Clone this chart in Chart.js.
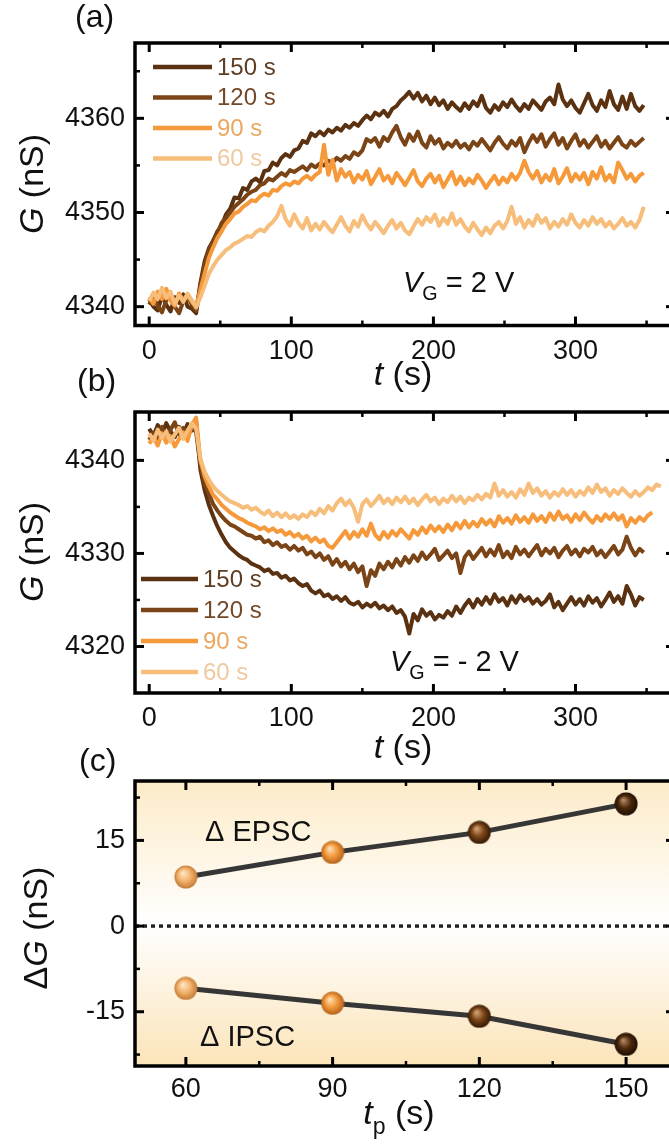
<!DOCTYPE html>
<html><head><meta charset="utf-8">
<script src="https://cdn.jsdelivr.net/npm/chart.js@4.4.1/dist/chart.umd.min.js"></script>
<style>
html,body{margin:0;padding:0;background:#fff;overflow:hidden;width:669px;height:1144px;position:relative;}
canvas{position:absolute;left:0;top:0;}
</style></head><body>
<canvas id="ca" width="700" height="1144"></canvas>
<canvas id="cb" width="700" height="1144"></canvas>
<canvas id="cc" width="700" height="1144"></canvas>
<script>
// ---------- data ----------
const timeS = [0,3,6,9,12,15,18,21,24,27,30,33,36,39,42,45,48,51,54,57,60,63,66,69,72,75,78,81,84,87,90,93,96,99,102,105,108,111,114,117,120,123,126,129,132,135,138,141,144,147,150,153,156,159,162,165,168,171,174,177,180,183,186,189,192,195,198,201,204,207,210,213,216,219,222,225,228,231,234,237,240,243,246,249,252,255,258,261,264,267,270,273,276,279,282,285,288,291,294,297,300,303,306,309,312,315,318,321,324,327,330,333,336,339,342,345,348,351,354,357,360];

const seriesNames = ['150 s','120 s','90 s','60 s'];
const lineColors = ['#5b3211','#7b4416','#f6993a','#f7bd7b'];
const legendTextColors = ['#5e3e22','#74492a','#eaa862','#efc9a0'];

// (a) VG = 2 V
const gA150 = [4340.8,4340.0,4339.6,4341.2,4340.2,4339.5,4341.0,4340.4,4341.3,4340.0,4339.8,4339.3,
4342.5,4344.8,4346.2,4347.0,4348.0,4348.6,4349.8,4350.4,4351.6,4351.5,4352.6,4352.4,4353.3,4353.6,4353.2,4354.4,4354.5,4355.3,4355.0,4355.8,4356.2,4355.9,4356.6,4356.8,4357.6,4357.4,4358.4,4358.1,4358.6,4358.2,4358.8,4358.5,4359.0,4358.7,4359.3,4359.0,4359.5,4359.2,4359.8,4360.3,4359.9,4360.6,4360.3,4360.8,4360.2,4361.0,4361.3,4361.9,4362.3,4362.8,4362.1,4362.7,4361.8,4362.4,4361.5,4362.2,4361.4,4361.9,4361.0,4361.7,4361.2,4360.8,4361.6,4361.0,4361.8,4361.3,4362.4,4361.1,4360.6,4361.4,4360.9,4361.7,4361.2,4362.0,4361.3,4360.8,4361.5,4361.0,4361.9,4361.4,4360.9,4361.8,4362.2,4361.5,4363.6,4362.0,4361.3,4361.9,4361.1,4360.6,4361.6,4362.6,4361.4,4360.8,4361.9,4361.2,4362.9,4361.5,4360.9,4362.3,4361.0,4362.6,4361.3,4360.8,4361.4];
const gA120 = [4340.2,4341.0,4340.1,4339.4,4340.7,4341.3,4340.0,4339.3,4340.6,4341.1,4340.2,4339.6,
4342.2,4344.4,4346.0,4347.0,4347.8,4348.9,4349.4,4350.0,4350.6,4351.0,4351.4,4351.9,4352.2,4352.4,4352.9,4353.1,4353.6,4353.4,4353.8,4354.2,4353.9,4354.5,4354.3,4354.6,4354.9,4354.5,4355.1,4354.8,4355.2,4355.0,4355.5,4355.3,4355.8,4355.5,4356.0,4355.7,4356.4,4356.1,4356.6,4357.8,4357.5,4357.9,4357.0,4358.0,4357.6,4358.5,4359.2,4358.0,4357.2,4358.3,4357.6,4358.6,4357.4,4356.9,4358.1,4357.3,4357.8,4356.8,4357.4,4357.0,4357.6,4356.9,4357.3,4356.7,4357.5,4357.1,4357.8,4357.2,4356.6,4357.4,4358.0,4357.3,4356.8,4357.6,4357.1,4357.9,4356.4,4357.4,4358.2,4357.5,4358.3,4357.0,4357.8,4358.4,4357.2,4357.9,4356.8,4357.6,4358.3,4357.1,4357.7,4356.9,4357.5,4358.1,4357.0,4357.6,4356.8,4357.4,4358.0,4357.2,4356.9,4357.6,4357.1,4357.5,4357.9];
const gA90 = [4341.0,4340.3,4341.6,4340.8,4341.9,4340.6,4340.1,4341.4,4340.7,4341.2,4340.5,4340.0,
4341.8,4343.5,4345.2,4346.3,4347.3,4348.0,4348.8,4349.3,4349.9,4350.1,4350.6,4350.9,4351.3,4351.2,4351.7,4352.0,4351.8,4352.4,4352.3,4352.8,4353.1,4352.9,4353.3,4353.1,4353.6,4353.9,4353.5,4354.0,4354.3,4357.2,4354.0,4355.6,4353.4,4354.6,4353.8,4354.3,4353.2,4354.0,4353.5,4354.4,4353.0,4353.8,4354.6,4353.4,4353.9,4353.1,4354.2,4353.6,4352.9,4353.7,4354.5,4353.3,4352.8,4353.6,4354.1,4353.2,4353.9,4352.7,4353.5,4354.3,4353.0,4353.8,4352.9,4353.6,4353.1,4354.0,4353.4,4352.6,4353.3,4353.9,4353.0,4353.7,4353.2,4354.1,4353.5,4354.2,4355.5,4354.3,4353.6,4354.4,4353.2,4354.0,4353.4,4354.6,4353.1,4353.8,4354.7,4353.3,4354.1,4353.5,4354.2,4353.0,4354.3,4353.6,4354.8,4353.4,4354.0,4353.2,4355.3,4354.5,4353.6,4354.1,4353.3,4353.9,4354.2];
const gA60 = [4340.6,4341.5,4340.8,4342.0,4340.9,4341.6,4340.3,4341.2,4340.5,4341.4,4340.7,4339.9,
4341.0,4342.2,4343.5,4344.3,4345.0,4345.5,4346.0,4346.3,4346.7,4346.9,4347.2,4347.5,4347.4,4347.9,4348.2,4348.0,4348.6,4349.0,4349.6,4350.7,4349.3,4348.6,4349.8,4348.9,4348.3,4349.4,4348.1,4348.8,4348.2,4349.0,4348.4,4347.9,4348.7,4349.5,4348.6,4348.0,4349.1,4348.5,4349.7,4348.8,4348.2,4349.0,4348.4,4347.8,4348.6,4349.2,4348.3,4348.9,4348.1,4347.7,4348.5,4349.3,4348.7,4349.5,4349.0,4349.8,4348.6,4349.4,4348.8,4349.9,4348.7,4349.3,4348.5,4348.0,4348.9,4348.2,4347.6,4348.4,4347.8,4348.6,4349.0,4348.3,4349.1,4350.6,4348.8,4349.5,4348.4,4349.2,4348.6,4349.7,4348.9,4349.4,4348.3,4349.0,4348.5,4349.3,4348.7,4349.8,4348.9,4348.4,4349.2,4348.6,4349.5,4348.8,4349.3,4348.5,4349.0,4348.3,4348.8,4349.4,4348.6,4349.0,4348.4,4349.2,4350.6];

// (b) VG = -2 V
const gB150 = [4343.4,4342.6,4343.8,4342.9,4344.0,4343.1,4342.5,4343.6,4342.8,4343.9,4343.2,4344.2,
4339.0,4336.8,4335.2,4334.0,4332.9,4332.0,4331.2,4330.6,4330.2,4329.8,4329.5,4329.3,4328.9,4328.7,4328.5,4328.1,4328.3,4327.8,4327.9,4327.4,4327.6,4327.1,4327.3,4326.8,4326.5,4326.7,4326.0,4325.7,4326.0,4325.4,4325.6,4325.1,4325.4,4324.9,4325.3,4324.7,4324.5,4324.8,4324.2,4324.6,4324.3,4324.7,4324.1,4324.4,4323.9,4324.3,4323.6,4323.9,4323.2,4321.4,4323.5,4322.8,4324.0,4323.3,4323.7,4322.9,4323.4,4323.1,4323.8,4323.3,4324.3,4323.6,4324.4,4325.0,4324.2,4325.1,4324.5,4325.3,4324.6,4325.6,4324.8,4325.2,4324.4,4325.4,4324.7,4325.5,4324.9,4325.3,4324.6,4325.1,4324.5,4324.9,4325.6,4324.2,4324.8,4323.9,4324.6,4325.3,4324.5,4325.1,4324.4,4325.4,4324.7,4325.2,4324.3,4325.0,4325.8,4324.8,4325.4,4324.6,4326.5,4325.6,4324.4,4325.3,4325.0];
const gB120 = [4342.2,4343.0,4342.4,4343.6,4342.7,4343.3,4344.1,4342.8,4343.5,4342.6,4343.7,4343.0,
4339.5,4337.5,4336.4,4335.3,4334.6,4334.0,4333.5,4333.1,4332.9,4332.6,4332.3,4332.0,4331.9,4331.6,4331.8,4331.2,4331.4,4330.9,4331.2,4330.7,4330.9,4330.4,4330.8,4330.3,4330.6,4329.9,4330.2,4329.6,4330.0,4329.3,4329.7,4328.8,4329.4,4328.6,4329.1,4328.3,4328.9,4328.0,4328.6,4326.5,4328.2,4327.6,4328.9,4328.3,4329.1,4328.5,4329.4,4328.7,4329.6,4329.0,4329.8,4329.2,4330.1,4329.4,4329.9,4330.5,4329.3,4329.8,4330.3,4329.5,4330.0,4327.9,4329.6,4330.2,4329.4,4330.0,4330.6,4329.7,4330.4,4329.8,4330.9,4329.6,4330.2,4329.5,4330.7,4329.9,4330.4,4329.7,4330.3,4330.9,4329.8,4330.5,4330.0,4330.6,4329.6,4330.3,4330.8,4329.9,4330.4,4329.7,4330.5,4330.1,4330.7,4329.8,4330.3,4329.6,4330.2,4330.8,4329.9,4330.4,4331.8,4330.6,4329.8,4330.5,4330.1];
const gB90 = [4341.8,4342.5,4341.6,4342.9,4341.9,4342.6,4341.5,4342.3,4343.0,4342.1,4343.8,4344.6,
4340.0,4338.3,4337.2,4336.3,4335.8,4335.2,4334.8,4334.4,4334.1,4333.8,4333.6,4333.3,4333.1,4332.9,4332.6,4332.8,4332.4,4332.7,4332.3,4332.5,4332.0,4332.3,4331.8,4332.1,4331.6,4331.9,4331.3,4331.7,4331.2,4331.5,4330.8,4330.6,4331.2,4331.8,4332.4,4331.6,4332.3,4331.8,4332.6,4331.9,4333.2,4332.0,4331.5,4332.3,4331.7,4332.4,4331.9,4332.6,4332.1,4331.6,4332.5,4332.0,4332.8,4332.2,4333.0,4332.4,4332.9,4332.3,4333.1,4332.5,4333.3,4332.7,4333.5,4332.8,4333.4,4332.9,4333.7,4333.1,4333.6,4332.9,4334.0,4333.3,4333.8,4333.2,4334.1,4333.4,4333.9,4333.3,4334.2,4333.5,4334.0,4333.4,4334.3,4333.6,4334.5,4333.7,4334.1,4333.4,4334.2,4333.6,4334.4,4333.8,4333.3,4334.0,4333.5,4334.2,4333.7,4334.3,4333.6,4334.1,4332.9,4333.8,4333.3,4333.9,4333.5,4334.1,4334.4];
const gB60 = [4342.9,4342.1,4343.3,4342.4,4343.1,4342.0,4342.8,4343.5,4342.3,4343.2,4344.0,4343.4,
4340.2,4338.8,4337.9,4337.2,4336.7,4336.3,4335.9,4335.6,4335.4,4335.2,4334.9,4335.1,4334.7,4334.9,4334.5,4334.2,4334.6,4334.0,4334.4,4333.9,4334.3,4333.8,4334.1,4333.7,4334.2,4333.9,4334.5,4334.1,4334.8,4334.3,4335.1,4334.6,4335.4,4335.9,4335.2,4335.7,4334.9,4333.4,4335.3,4335.8,4335.1,4335.6,4336.2,4335.4,4335.9,4335.3,4336.0,4335.5,4336.1,4335.4,4335.9,4335.2,4335.8,4336.3,4335.6,4336.0,4335.3,4335.9,4335.5,4336.2,4335.6,4336.1,4335.4,4336.0,4335.7,4336.3,4335.8,4336.4,4336.0,4337.5,4336.2,4336.8,4336.1,4336.6,4336.0,4336.9,4336.3,4337.5,4336.5,4337.0,4336.2,4336.7,4336.0,4336.6,4336.2,4336.9,4336.3,4336.8,4336.1,4336.7,4336.3,4337.1,4336.5,4337.4,4336.6,4337.0,4336.2,4336.8,4336.4,4337.0,4336.5,4336.1,4336.7,4336.2,4336.6,4337.1,4336.8,4337.4,4337.2];

const xTicksT = [0,100,200,300];
const xMinorT = [50,150,250,350];
const yTicksA = [4340,4350,4360];
const yMinorA = [4345,4355,4365];
const yTicksB = [4320,4330,4340];
const yMinorB = [4325,4335];

// (c)
const tp = [60,90,120,150];
const dEPSC = [8.6,12.9,16.4,21.4];
const dIPSC = [-10.9,-13.5,-15.8,-20.7];
const xTicksC = [60,90,120,150];
const xMinorC = [75,105,135];
const yTicksC = [-15,0,15];
const yMinorC = [-22.5,-7.5,7.5,22.5];
const markerColors = [['#fde7c8','#f5b36e','#c07934'],['#fde0b8','#f49a3c','#b0601a'],['#d6a478','#7a4416','#2e1603'],['#b58a66','#4e290b','#1a0c02']];

// ---------- helpers ----------
const FONT = '"Liberation Sans", Arial, Helvetica, sans-serif';

function drawRich(ctx, parts, x, y, size, align, color) {
  ctx.fillStyle = color || '#111';
  ctx.textBaseline = 'alphabetic';
  ctx.textAlign = 'left';
  const m = [];
  let w = 0;
  for (const p of parts) {
    const fs = p.sub ? size * 0.68 : size;
    const f = (p.i ? 'italic ' : '') + fs + 'px ' + FONT;
    ctx.font = f;
    const pw = ctx.measureText(p.t).width;
    m.push({p, f, pw});
    w += pw;
  }
  let cx = align === 'center' ? x - w / 2 : x;
  for (const q of m) {
    ctx.font = q.f;
    ctx.fillText(q.p.t, cx, y + (q.p.sub ? size * 0.28 : 0));
    cx += q.pw;
  }
}

function decor(cfg) {
  return {
    id: 'decor',
    beforeDraw(chart) {
      if (!cfg.bg) return;
      const {ctx, chartArea: a} = chart;
      const g = ctx.createLinearGradient(0, a.top, 0, a.bottom);
      g.addColorStop(0, '#fcebc8');
      g.addColorStop(0.5, '#ffffff');
      g.addColorStop(1, '#fbe4b9');
      ctx.save(); ctx.fillStyle = g; ctx.fillRect(a.left, a.top, a.width, a.height); ctx.restore();
    },
    beforeDatasetsDraw(chart) {
      if (cfg.zeroLine === undefined) return;
      const {ctx, chartArea: a, scales: {y}} = chart;
      const py = y.getPixelForValue(cfg.zeroLine);
      ctx.save();
      ctx.strokeStyle = '#222'; ctx.lineWidth = 3.5; ctx.setLineDash([4, 4]);
      ctx.beginPath(); ctx.moveTo(a.left, py); ctx.lineTo(a.right, py); ctx.stroke();
      ctx.restore();
    },
    afterDraw(chart) {
      const {ctx, chartArea: a, scales: {x, y}} = chart;
      ctx.save();
      ctx.strokeStyle = '#000';
      const seg = (x1, y1, x2, y2) => { ctx.beginPath(); ctx.moveTo(x1, y1); ctx.lineTo(x2, y2); ctx.stroke(); };
      ctx.lineWidth = 3;
      for (const v of cfg.xMajor) { const p = x.getPixelForValue(v); seg(p, a.bottom, p, a.bottom - 9); seg(p, a.top, p, a.top + 9); }
      for (const v of cfg.yMajor) { const p = y.getPixelForValue(v); seg(a.left, p, a.left + 9, p); seg(a.right, p, a.right - 9, p); }
      ctx.lineWidth = 2.5;
      for (const v of cfg.xMinor) { const p = x.getPixelForValue(v); seg(p, a.bottom, p, a.bottom - 5); seg(p, a.top, p, a.top + 5); }
      for (const v of cfg.yMinor) { const p = y.getPixelForValue(v); seg(a.left, p, a.left + 5, p); seg(a.right, p, a.right - 5, p); }
      ctx.lineWidth = 3.5;
      ctx.strokeRect(a.left, a.top, a.width, a.height);
      // legend
      if (cfg.legend) {
        const L = cfg.legend;
        chart.data.datasets.slice().sort((p, q) => seriesNames.indexOf(p.label) - seriesNames.indexOf(q.label)).forEach((ds, k) => {
          const yy = L.y0 + k * L.dy;
          ctx.strokeStyle = ds.borderColor; ctx.lineWidth = 4.5; ctx.lineCap = 'butt';
          seg(L.x1, yy, L.x2, yy);
          ctx.font = L.size + 'px ' + FONT; ctx.fillStyle = legendTextColors[seriesNames.indexOf(ds.label)];
          ctx.textAlign = 'left'; ctx.textBaseline = 'middle';
          ctx.fillText(ds.label, L.x2 + 5, yy + 1);
        });
      }
      // texts
      for (const t of cfg.texts) {
        if (t.rot) {
          ctx.save(); ctx.translate(t.x, t.y); ctx.rotate(-Math.PI / 2);
          drawRich(ctx, t.parts, 0, t.size * 0.36, t.size, 'center', t.color);
          ctx.restore();
        } else {
          drawRich(ctx, t.parts, t.x, t.y, t.size, t.align || 'left', t.color);
        }
      }
      ctx.restore();
    }
  };
}

function scaleCfg(min, max, ticks, padding, isX, fitSize) {
  return {
    type: 'linear', min, max,
    afterBuildTicks: s => { s.ticks = ticks.map(v => ({value: v})); },
    afterFit: s => { if (isX) s.height = fitSize; else s.width = fitSize; },
    grid: {display: false, drawTicks: false},
    border: {display: false},
    ticks: {font: {family: FONT, size: 27}, color: '#111', padding, autoSkip: false, maxRotation: 0, callback: v => String(v)}
  };
}

function timeChart(id, series, yMin, yMax, yTicks, yMinor, top, bottom, xPad, cfg) {
  const datasets = series.map((vals, k) => ({
    label: seriesNames[k],
    data: vals.map((v, i) => ({x: timeS[i], y: v})),
    borderColor: lineColors[k], borderWidth: 4, pointRadius: 0, tension: 0,
    borderJoinStyle: 'round', order: 4 - k
  }));
  cfg.xMajor = xTicksT; cfg.xMinor = xMinorT; cfg.yMajor = yTicks; cfg.yMinor = yMinor;
  return new Chart(document.getElementById(id), {
    type: 'line',
    data: {datasets},
    options: {
      responsive: false, animation: false, events: [],
      layout: {padding: {top, left: 0, right: 25, bottom: 1144 - bottom - 60}},
      plugins: {legend: {display: false}, tooltip: {enabled: false}},
      scales: {
        x: scaleCfg(-10, 370, xTicksT, xPad, true, 60),
        y: scaleCfg(yMin, yMax, yTicks, 10, false, 135)
      }
    },
    plugins: [decor(cfg)]
  });
}

// ---------- panel (a) ----------
timeChart('ca', [gA150, gA120, gA90, gA60], 4338, 4368, yTicksA, yMinorA, 43, 325.5, 10, {
  legend: {x1: 153, x2: 212, y0: 67, dy: 30.5, size: 24},
  texts: [
    {parts: [{t: '(a)'}], x: 75, y: 27, size: 32},
    {parts: [{t: 'G', i: 1}, {t: ' (nS)'}], x: 31, y: 184, size: 34, rot: 1},
    {parts: [{t: 't', i: 1}, {t: ' (s)'}], x: 403, y: 385, size: 34, align: 'center'},
    {parts: [{t: 'V', i: 1}, {t: 'G', sub: 1}, {t: ' = 2 V'}], x: 403, y: 292, size: 29}
  ]
});

// ---------- panel (b) ----------
timeChart('cb', [gB150, gB120, gB90, gB60], 4315, 4345.2, yTicksB, yMinorB, 412, 693, 9, {
  legend: {x1: 141, x2: 198, y0: 579, dy: 31, size: 24},
  texts: [
    {parts: [{t: '(b)'}], x: 77, y: 391, size: 32},
    {parts: [{t: 'G', i: 1}, {t: ' (nS)'}], x: 31, y: 552, size: 34, rot: 1},
    {parts: [{t: 't', i: 1}, {t: ' (s)'}], x: 403, y: 758, size: 34, align: 'center'},
    {parts: [{t: 'V', i: 1}, {t: 'G', sub: 1}, {t: ' = - 2 V'}], x: 390, y: 671, size: 29}
  ]
});

// ---------- panel (c) ----------
function sphere(cols) {
  const c = document.createElement('canvas'); c.width = 24; c.height = 24;
  const g = c.getContext('2d');
  const grd = g.createRadialGradient(9, 8, 0.5, 12, 12, 12);
  grd.addColorStop(0, cols[0]); grd.addColorStop(0.5, cols[1]); grd.addColorStop(1, cols[2]);
  g.fillStyle = grd; g.beginPath(); g.arc(12, 12, 11.5, 0, Math.PI * 2); g.fill();
  return c;
}
const markers = markerColors.map(sphere);
const mkDs = (label, vals) => ({
  label, data: vals.map((v, i) => ({x: tp[i], y: v})),
  borderColor: '#363636', borderWidth: 5, tension: 0,
  pointStyle: markers, pointRadius: 11, backgroundColor: 'transparent'
});
new Chart(document.getElementById('cc'), {
  type: 'line',
  data: {datasets: [mkDs('Δ EPSC', dEPSC), mkDs('Δ IPSC', dIPSC)]},
  options: {
    responsive: false, animation: false, events: [],
    layout: {padding: {top: 781, left: 0, right: 25, bottom: 1144 - 1066 - 60}},
    plugins: {legend: {display: false}, tooltip: {enabled: false}},
    scales: {
      x: scaleCfg(49.6, 160, xTicksC, 7, true, 60),
      y: scaleCfg(-24.5, 25.4, yTicksC, 10, false, 135)
    }
  },
  plugins: [decor({
    bg: true, zeroLine: 0,
    xMajor: xTicksC, xMinor: xMinorC, yMajor: yTicksC, yMinor: yMinorC,
    texts: [
      {parts: [{t: '(c)'}], x: 79, y: 771, size: 32},
      {parts: [{t: 'Δ'}, {t: 'G', i: 1}, {t: ' (nS)'}], x: 35, y: 928, size: 34, rot: 1},
      {parts: [{t: 't', i: 1}, {t: 'p', sub: 1}, {t: ' (s)'}], x: 399, y: 1124, size: 34, align: 'center'},
      {parts: [{t: 'Δ EPSC'}], x: 205, y: 841, size: 29},
      {parts: [{t: 'Δ IPSC'}], x: 200, y: 1046, size: 29}
    ]
  })]
});
</script>
</body></html>
